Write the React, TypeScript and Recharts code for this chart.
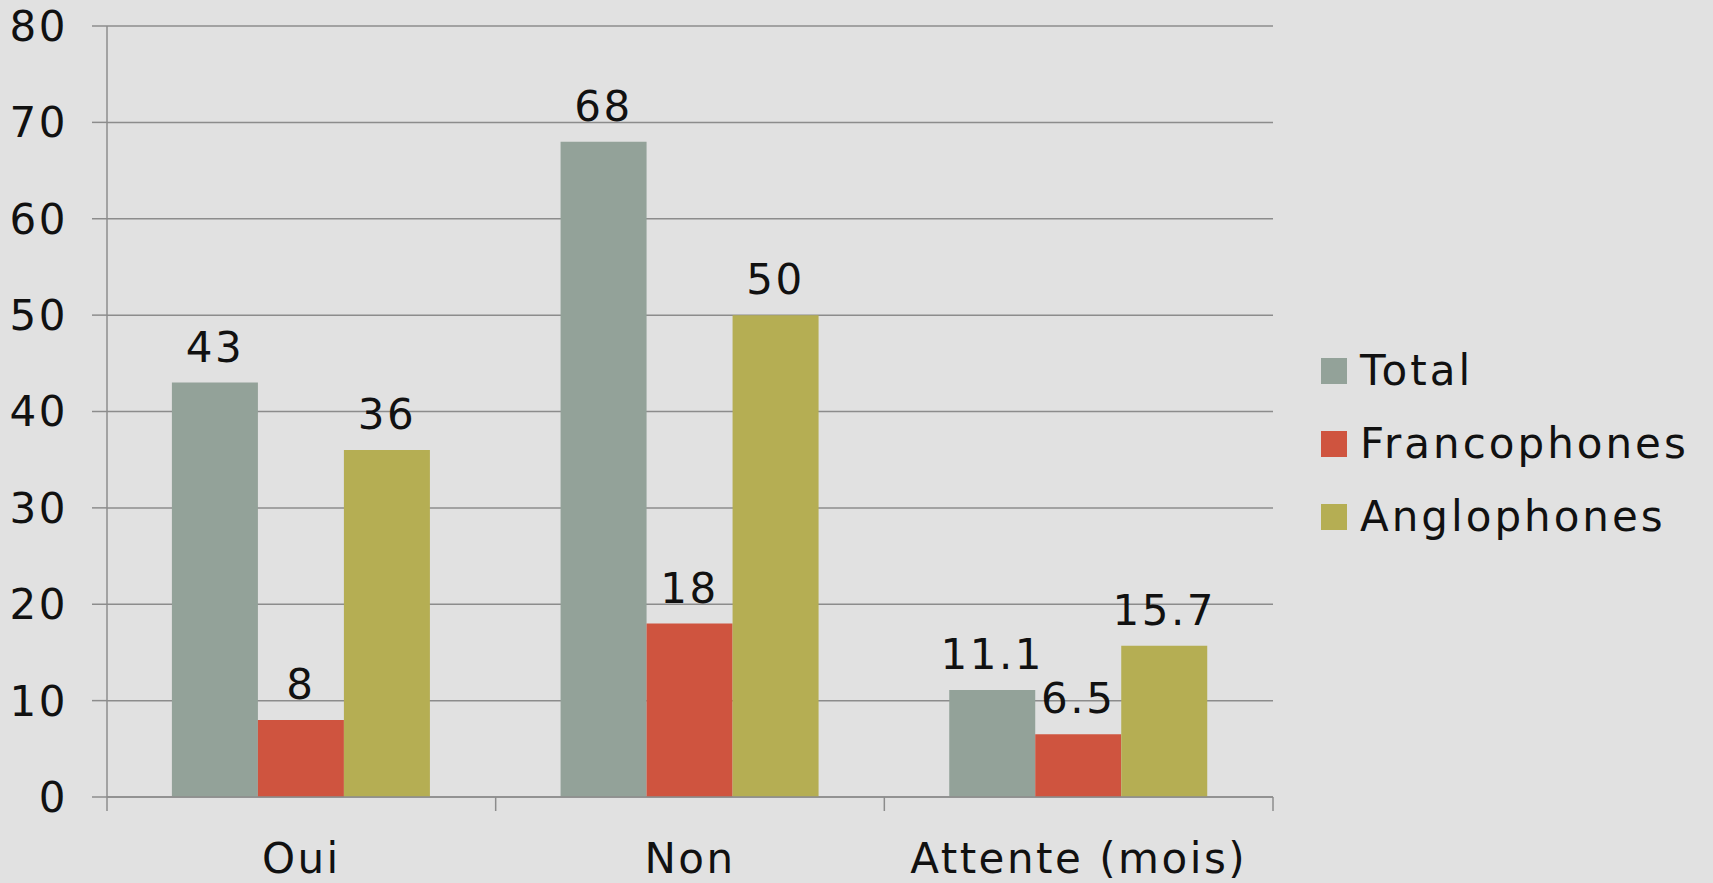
import React from 'react';
import { BarChart, Bar, XAxis, YAxis, CartesianGrid, LabelList } from 'recharts';

const categories = ['Oui', 'Non', 'Attente (mois)'];
const total = [43, 68, 11.1];
const francophones = [8, 18, 6.5];
const anglophones = [36, 50, 15.7];
const yTicks = [0, 10, 20, 30, 40, 50, 60, 70, 80];

const series = [
  { key: 'total', name: 'Total', color: '#93a299' },
  { key: 'francophones', name: 'Francophones', color: '#cf543f' },
  { key: 'anglophones', name: 'Anglophones', color: '#b5ae53' },
];

const data = categories.map((c, i) => ({
  name: c,
  total: total[i],
  francophones: francophones[i],
  anglophones: anglophones[i],
}));

const FONT = '"DejaVu Sans", sans-serif';
const FONT_SIZE = 42;
const SPACING = 2.5;
const GRID = '#8c8c8c';

const CategoryTick = (props: any) => {
  const { x, y, payload, index } = props;
  const off = payload.offset || 0;
  const last = index === categories.length - 1;
  return (
    <g>
      <line x1={x - off} x2={x - off} y1={y} y2={y + 14} stroke={GRID} strokeWidth={1.5} />
      {last && <line x1={x + off} x2={x + off} y1={y} y2={y + 14} stroke={GRID} strokeWidth={1.5} />}
      <text
        x={x}
        y={y + 76}
        textAnchor="middle"
        fontFamily={FONT}
        fontSize={FONT_SIZE}
        letterSpacing={SPACING}
        fill="#111"
      >
        {payload.value}
      </text>
    </g>
  );
};

export default function App() {
  return (
    <div style={{ position: 'fixed', left: 0, top: 0, width: 1713, height: 883, background: '#e1e1e1' }}>
      <BarChart
        width={1713}
        height={883}
        data={data}
        margin={{ top: 26, right: 440, bottom: 26, left: 0 }}
        barCategoryGap="16.7%"
        barGap={0}
      >
        <CartesianGrid vertical={false} stroke={GRID} strokeWidth={1.5} />
        <XAxis
          dataKey="name"
          height={60}
          interval={0}
          tickSize={0}
          tickMargin={0}
          tickLine={false}
          axisLine={{ stroke: GRID, strokeWidth: 1.5 }}
          tick={<CategoryTick />}
        />
        <YAxis
          width={107}
          domain={[0, 80]}
          ticks={yTicks}
          interval={0}
          tickSize={15}
          tickMargin={24}
          axisLine={{ stroke: GRID, strokeWidth: 1.5 }}
          tickLine={{ stroke: GRID, strokeWidth: 1.5 }}
          tick={{ fontFamily: FONT, fontSize: FONT_SIZE, fill: '#111', letterSpacing: SPACING }}
        />
        {series.map((s) => (
          <Bar key={s.key} dataKey={s.key} name={s.name} fill={s.color} isAnimationActive={false}>
            <LabelList
              dataKey={s.key}
              position="top"
              offset={21}
              style={{ fontFamily: FONT, fontSize: FONT_SIZE, fill: '#111', letterSpacing: SPACING }}
            />
          </Bar>
        ))}
      </BarChart>
      <div
        style={{
          position: 'absolute',
          left: 1321,
          top: 334,
          fontFamily: FONT,
          fontSize: FONT_SIZE,
          letterSpacing: 3,
          color: '#111',
        }}
      >
        {series.map((s) => (
          <div key={s.key} style={{ display: 'flex', alignItems: 'center', height: 73 }}>
            <div style={{ width: 26, height: 26, background: s.color, marginRight: 13 }} />
            <span style={{ lineHeight: '73px' }}>{s.name}</span>
          </div>
        ))}
      </div>
    </div>
  );
}
